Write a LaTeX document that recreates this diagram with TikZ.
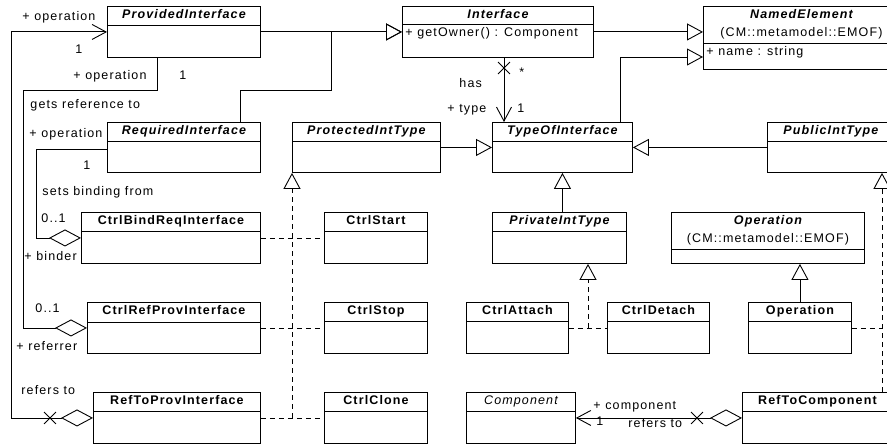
\documentclass[tikz,border=0pt]{standalone}
\usepackage{fontspec}
\setmainfont{Liberation Sans}[LetterSpace=9]
\usetikzlibrary{arrows.meta,shapes.misc}

\tikzset{
  umlbox/.style={draw, anchor=north west, inner sep=0pt},
  umltitle/.style={inner sep=0pt, font=\fontsize{12.5}{14}\selectfont\bfseries},
  lbl/.style={inner sep=0pt, anchor=base west},
  gen/.style={-{Triangle[open, length=16pt, width=17pt]}},
  navi/.style={-{Straight Barb[length=14pt, width=15pt]}},
  aggr/.style={{Diamond[open, length=32pt, width=17pt]}-},
  aggrnavi/.style={{Diamond[open, length=32pt, width=17pt]}-{Straight Barb[length=14pt, width=15pt]}},
  real/.style={dash pattern=on 5pt off 4pt, -{Triangle[open, length=16pt, width=17pt]}},
  dsh/.style={dash pattern=on 5pt off 4pt},
  xmark/.style={draw, cross out, minimum size=11pt, inner sep=0pt}
}

% name, x, y, width, height, header height, title
\newcommand{\umlclass}[7]{%
  \node[umlbox, minimum width=#4pt, minimum height=#5pt] (#1) at (#2,#3) {};
  \draw ([yshift=-#6pt]#1.north west) -- ([yshift=-#6pt]#1.north east);
  \node[umltitle, anchor=base] (#1-title) at ([yshift=-12.5pt]#1.north) {#7};
}

\begin{document}
\begin{tikzpicture}[x=1pt, y=-1pt, line width=0.9pt, font=\fontsize{12.5}{14}\selectfont]
  \useasboundingbox (0,0) rectangle (887,444);
  \clip (0,0) rectangle (887,444);

  % classes
  \umlclass{prov}{107}{6}{153}{51}{19}{\itshape ProvidedInterface}
  \umlclass{iface}{402}{6}{191}{51}{18}{\itshape Interface}
  \umlclass{named}{703}{6}{196}{63}{37}{\itshape NamedElement}
  \node[inner sep=0pt, anchor=base] (named-pkg) at ([yshift=-30.5pt]named.north) {(CM::metamodel::EMOF)};
  \node[lbl] (iface-op) at (405,36.5) {+ getOwner() : Component};
  \node[lbl] (named-att) at (706,55.5) {+ name : string};

  \umlclass{req}{107}{122}{153}{50}{19}{\itshape RequiredInterface}
  \umlclass{prot}{292}{122}{148}{50}{19}{\itshape ProtectedIntType}
  \umlclass{toi}{492}{122}{140}{50}{19}{\itshape TypeOfInterface}
  \umlclass{pub}{767}{122}{127}{50}{19}{\itshape PublicIntType}

  \umlclass{bindreq}{81}{212}{179}{51}{19}{CtrlBindReqInterface}
  \umlclass{start}{324}{212}{103}{51}{19}{CtrlStart}
  \umlclass{priv}{492}{212}{134}{51}{19}{\itshape PrivateIntType}
  \umlclass{opabs}{671}{212}{193}{51}{37}{\itshape Operation}
  \node[inner sep=0pt, anchor=base] (opabs-pkg) at ([yshift=-30.5pt]opabs.north) {(CM::metamodel::EMOF)};

  \umlclass{refprov}{87}{302}{173}{51}{20}{CtrlRefProvInterface}
  \umlclass{stop}{324}{302}{103}{51}{19}{CtrlStop}
  \umlclass{attach}{466}{302}{102}{51}{19}{CtrlAttach}
  \umlclass{detach}{607}{302}{102}{51}{19}{CtrlDetach}
  \umlclass{op}{748}{302}{103}{51}{19}{Operation}

  \umlclass{reftoprov}{93}{392}{167}{51}{19}{RefToProvInterface}
  \umlclass{clone}{324}{392}{103}{51}{19}{CtrlClone}
  \umlclass{comp}{466}{392}{109}{51}{19}{\mdseries\itshape Component}
  \umlclass{reftocomp}{742}{392}{150}{51}{19}{RefToComponent}

  % bend points
  \coordinate (lx) at (11,0);
  \coordinate (bendA) at (23,90);
  \coordinate (bendB) at (157,90);
  \coordinate (bendC) at (36,149);
  \coordinate (bendD) at (240,90);
  \coordinate (bendE) at (331,90);
  \coordinate (bendF) at (620,57);
  \coordinate (hasx) at (504,0);
  \coordinate (privr) at (588,0);
  \coordinate (pubr) at (882,0);

  % generalizations
  \draw[gen] (prov.east) -- (iface.west);
  \draw[gen] (bendD |- req.north) -- (bendD) -- (bendE) |- (iface.west);
  \draw[gen] (iface.east) -- (iface.east -| named.west);
  \draw[gen] (bendF |- toi.north) -- (bendF) -- (bendF -| named.west);
  \draw[gen] (prot.east) -- (toi.west);
  \draw[gen] (pub.west) -- (toi.east);
  \draw[gen] (toi.south |- priv.north) -- (toi.south);
  \draw[gen] (op.north) -- (op.north |- opabs.south);

  % realizations
  \draw[real] (prot.south west |- clone.west) -- (prot.south west);
  \draw[dsh] (bindreq.east) -- (start.west);
  \draw[dsh] (refprov.east) -- (stop.west);
  \draw[dsh] (reftoprov.east) -- (clone.west);
  \draw[real] (privr |- attach.east) -- (privr |- priv.south);
  \draw[dsh] (attach.east) -- (detach.west);
  \draw[real] (pubr |- reftocomp.north) -- (pubr |- pub.south);
  \draw[dsh] (op.east) -- (op.east -| pubr);

  % associations
  \draw[aggrnavi] (reftoprov.west) -| (lx |- prov.west) -- (prov.west);
  \node[xmark] (x1) at ([xshift=-43pt]reftoprov.west) {};
  \draw[aggr] (refprov.west) -| (bendA) -- (bendB) -- (bendB |- prov.south);
  \draw[aggr] (bindreq.west) -| (bendC) -- (bendC -| req.west);
  \draw[navi] (hasx |- iface.south) -- (hasx |- toi.north);
  \node[xmark] (x2) at (504,68) {};
  \draw[aggrnavi] (reftocomp.west) -- (comp.east);
  \node[xmark] (x3) at ([xshift=-45pt]reftocomp.west) {};

  % labels
  \node[lbl] (l1) at (22,21) {+ operation};
  \node[lbl] (l2) at (75,54) {1};
  \node[lbl] (l3) at (73,80) {+ operation};
  \node[lbl] (l4) at (179,80) {1};
  \node[lbl] (l5) at (30,108) {gets reference to};
  \node[lbl] (l6) at (29,137) {+ operation};
  \node[lbl] (l7) at (83,169) {1};
  \node[lbl] (l8) at (42,195) {sets binding from};
  \node[lbl] (l9) at (41,222) {0..1};
  \node[lbl] (l10) at (24,260) {+ binder};
  \node[lbl] (l11) at (35,312) {0..1};
  \node[lbl] (l12) at (16,350) {+ referrer};
  \node[lbl] (l13) at (21,394) {refers to};
  \node[lbl] (l14) at (459,88) {has};
  \node[lbl] (l15) at (447,113) {+ type};
  \node[lbl] (l16) at (519,77) {*};
  \node[lbl] (l17) at (517,113) {1};
  \node[lbl] (l18) at (593,409) {+ component};
  \node[lbl] (l19) at (596,425) {1};
  \node[lbl] (l20) at (628,427) {refers to};
\end{tikzpicture}
\end{document}
